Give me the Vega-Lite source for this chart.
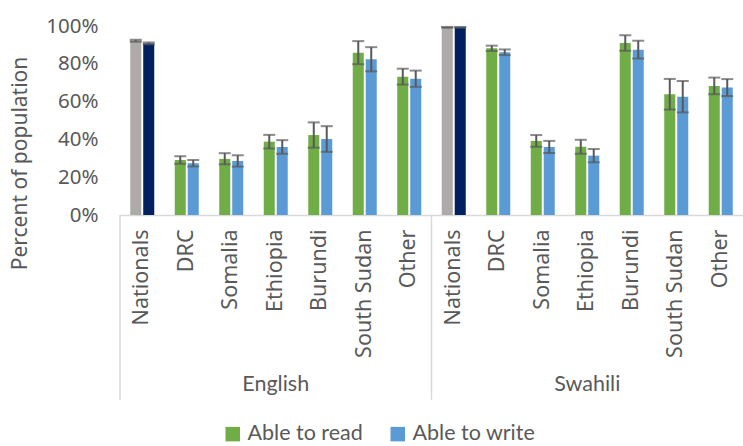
{
  "$schema": "https://vega.github.io/schema/vega-lite/v6.json",
  "width": 623,
  "height": 189,
  "autosize": {"type": "none"},
  "padding": {"left": 120, "top": 26, "right": 0, "bottom": 231},
  "background": "white",
  "config": {
    "view": {"stroke": null},
    "font": "Noto Sans",
    "axisY": {
      "grid": false, "domain": false, "ticks": false, "tickSize": 0,
      "labelOverlap": false, "labelBound": false, "labelFlush": false,
      "labelFont": "Noto Sans", "labelFontSize": 20.5, "labelColor": "#595959", "labelPadding": 22,
      "titleFont": "Noto Sans", "titleFontSize": 21, "titleFontWeight": "normal", "titleColor": "#595959"
    },
    "axisX": {
      "grid": false, "ticks": false, "tickSize": 0,
      "labelOverlap": false,
      "labelFont": "Noto Sans", "labelFontSize": 21.5, "labelColor": "#595959", "labelPadding": 14,
      "domainColor": "#D9D9D9", "domainWidth": 1.5
    }
  },
  "datasets": {
    "bars": [
      {"lang": "English", "country": "Nationals", "measure": "read", "series": "Nationals read", "value": 0.922, "lo": 0.917, "hi": 0.927},
      {"lang": "English", "country": "Nationals", "measure": "write", "series": "Nationals write", "value": 0.908, "lo": 0.903, "hi": 0.913},
      {"lang": "English", "country": "DRC", "measure": "read", "series": "Able to read", "value": 0.291, "lo": 0.271, "hi": 0.311},
      {"lang": "English", "country": "DRC", "measure": "write", "series": "Able to write", "value": 0.274, "lo": 0.257, "hi": 0.291},
      {"lang": "English", "country": "Somalia", "measure": "read", "series": "Able to read", "value": 0.297, "lo": 0.268, "hi": 0.327},
      {"lang": "English", "country": "Somalia", "measure": "write", "series": "Able to write", "value": 0.286, "lo": 0.256, "hi": 0.316},
      {"lang": "English", "country": "Ethiopia", "measure": "read", "series": "Able to read", "value": 0.388, "lo": 0.352, "hi": 0.424},
      {"lang": "English", "country": "Ethiopia", "measure": "write", "series": "Able to write", "value": 0.360, "lo": 0.324, "hi": 0.396},
      {"lang": "English", "country": "Burundi", "measure": "read", "series": "Able to read", "value": 0.423, "lo": 0.356, "hi": 0.490},
      {"lang": "English", "country": "Burundi", "measure": "write", "series": "Able to write", "value": 0.402, "lo": 0.334, "hi": 0.470},
      {"lang": "English", "country": "South Sudan", "measure": "read", "series": "Able to read", "value": 0.859, "lo": 0.798, "hi": 0.920},
      {"lang": "English", "country": "South Sudan", "measure": "write", "series": "Able to write", "value": 0.824, "lo": 0.760, "hi": 0.888},
      {"lang": "English", "country": "Other", "measure": "read", "series": "Able to read", "value": 0.732, "lo": 0.690, "hi": 0.774},
      {"lang": "English", "country": "Other", "measure": "write", "series": "Able to write", "value": 0.721, "lo": 0.678, "hi": 0.764},
      {"lang": "Swahili", "country": "Nationals", "measure": "read", "series": "Nationals read", "value": 0.993, "lo": 0.991, "hi": 0.995},
      {"lang": "Swahili", "country": "Nationals", "measure": "write", "series": "Nationals write", "value": 0.993, "lo": 0.991, "hi": 0.995},
      {"lang": "Swahili", "country": "DRC", "measure": "read", "series": "Able to read", "value": 0.882, "lo": 0.868, "hi": 0.896},
      {"lang": "Swahili", "country": "DRC", "measure": "write", "series": "Able to write", "value": 0.861, "lo": 0.846, "hi": 0.876},
      {"lang": "Swahili", "country": "Somalia", "measure": "read", "series": "Able to read", "value": 0.392, "lo": 0.361, "hi": 0.423},
      {"lang": "Swahili", "country": "Somalia", "measure": "write", "series": "Able to write", "value": 0.360, "lo": 0.328, "hi": 0.392},
      {"lang": "Swahili", "country": "Ethiopia", "measure": "read", "series": "Able to read", "value": 0.361, "lo": 0.324, "hi": 0.398},
      {"lang": "Swahili", "country": "Ethiopia", "measure": "write", "series": "Able to write", "value": 0.314, "lo": 0.279, "hi": 0.349},
      {"lang": "Swahili", "country": "Burundi", "measure": "read", "series": "Able to read", "value": 0.910, "lo": 0.869, "hi": 0.951},
      {"lang": "Swahili", "country": "Burundi", "measure": "write", "series": "Able to write", "value": 0.875, "lo": 0.828, "hi": 0.922},
      {"lang": "Swahili", "country": "South Sudan", "measure": "read", "series": "Able to read", "value": 0.639, "lo": 0.558, "hi": 0.720},
      {"lang": "Swahili", "country": "South Sudan", "measure": "write", "series": "Able to write", "value": 0.626, "lo": 0.543, "hi": 0.709},
      {"lang": "Swahili", "country": "Other", "measure": "read", "series": "Able to read", "value": 0.683, "lo": 0.639, "hi": 0.727},
      {"lang": "Swahili", "country": "Other", "measure": "write", "series": "Able to write", "value": 0.674, "lo": 0.629, "hi": 0.719}
    ],
    "separators": [
      {"lang": "English", "country": "Nationals"},
      {"lang": "Swahili", "country": "Nationals"}
    ],
    "groups": [
      {"lang": "English", "country": "Ethiopia"},
      {"lang": "Swahili", "country": "Ethiopia"}
    ]
  },
  "layer": [
    {
      "data": {"name": "bars"},
      "transform": [{"calculate": "datum.lang + '|' + datum.country", "as": "slot"}],
      "mark": {"type": "bar"},
      "encoding": {
        "x": {
          "field": "slot", "type": "nominal",
          "scale": {
            "domain": ["English|Nationals", "English|DRC", "English|Somalia", "English|Ethiopia", "English|Burundi", "English|South Sudan", "English|Other",
                       "Swahili|Nationals", "Swahili|DRC", "Swahili|Somalia", "Swahili|Ethiopia", "Swahili|Burundi", "Swahili|South Sudan", "Swahili|Other"],
            "paddingInner": 0, "paddingOuter": 0
          },
          "axis": {"title": null, "labelExpr": "split(datum.label, '|')[1]", "labelAngle": -90}
        },
        "xOffset": {
          "field": "measure", "type": "nominal",
          "scale": {"domain": ["read", "write"], "paddingInner": 0.15, "paddingOuter": 0.79}
        },
        "y": {
          "field": "value", "type": "quantitative",
          "scale": {"domain": [0, 1], "nice": false},
          "axis": {"title": "Percent of population", "values": [0, 0.2, 0.4, 0.6, 0.8, 1], "format": ".0%", "labelOverlap": false, "titleX": -100, "titleY": 137, "titleAlign": "center", "titleBaseline": "middle", "titleAngle": -90}
        },
        "color": {
          "field": "series", "type": "nominal",
          "scale": {
            "domain": ["Able to read", "Able to write", "Nationals read", "Nationals write"],
            "range": ["#70AD47", "#5B9BD5", "#AEAAAA", "#002060"]
          },
          "legend": {
            "values": ["Able to read", "Able to write"],
            "title": null,
            "orient": "none",
            "direction": "horizontal",
            "legendX": 102,
            "legendY": 397,
            "symbolType": "square",
            "symbolSize": 210,
            "symbolStrokeWidth": 0,
            "labelFont": "Lato",
            "labelFontSize": 21.5,
            "labelColor": "#595959",
            "labelOffset": 4,
            "columnPadding": 24
          }
        }
      }
    },
    {
      "data": {"name": "bars"},
      "transform": [{"calculate": "datum.lang + '|' + datum.country", "as": "slot"}],
      "mark": {"type": "rule", "color": "#595959", "strokeWidth": 2},
      "encoding": {
        "x": {"field": "slot", "type": "nominal", "axis": {"title": null, "labelExpr": "split(datum.label, '|')[1]", "labelAngle": -90}},
        "xOffset": {"field": "measure", "type": "nominal"},
        "y": {"field": "lo", "type": "quantitative", "axis": {"title": "Percent of population", "values": [0, 0.2, 0.4, 0.6, 0.8, 1], "format": ".0%", "labelOverlap": false, "titleX": -100, "titleY": 137, "titleAlign": "center", "titleBaseline": "middle", "titleAngle": -90}},
        "y2": {"field": "hi"}
      }
    },
    {
      "data": {"name": "bars"},
      "transform": [{"calculate": "datum.lang + '|' + datum.country", "as": "slot"}],
      "mark": {"type": "tick", "color": "#595959", "size": 12, "thickness": 2},
      "encoding": {
        "x": {"field": "slot", "type": "nominal", "axis": {"title": null, "labelExpr": "split(datum.label, '|')[1]", "labelAngle": -90}},
        "xOffset": {"field": "measure", "type": "nominal"},
        "y": {"field": "lo", "type": "quantitative", "axis": {"title": "Percent of population", "values": [0, 0.2, 0.4, 0.6, 0.8, 1], "format": ".0%", "labelOverlap": false, "titleX": -100, "titleY": 137, "titleAlign": "center", "titleBaseline": "middle", "titleAngle": -90}}
      }
    },
    {
      "data": {"name": "bars"},
      "transform": [{"calculate": "datum.lang + '|' + datum.country", "as": "slot"}],
      "mark": {"type": "tick", "color": "#595959", "size": 12, "thickness": 2},
      "encoding": {
        "x": {"field": "slot", "type": "nominal", "axis": {"title": null, "labelExpr": "split(datum.label, '|')[1]", "labelAngle": -90}},
        "xOffset": {"field": "measure", "type": "nominal"},
        "y": {"field": "hi", "type": "quantitative", "axis": {"title": "Percent of population", "values": [0, 0.2, 0.4, 0.6, 0.8, 1], "format": ".0%", "labelOverlap": false, "titleX": -100, "titleY": 137, "titleAlign": "center", "titleBaseline": "middle", "titleAngle": -90}}
      }
    },
    {
      "data": {"name": "separators"},
      "transform": [{"calculate": "datum.lang + '|' + datum.country", "as": "slot"}],
      "mark": {"type": "rule", "color": "#D9D9D9", "strokeWidth": 1.5, "clip": false},
      "encoding": {
        "x": {"field": "slot", "type": "nominal", "bandPosition": 0, "axis": {"title": null, "labelExpr": "split(datum.label, '|')[1]", "labelAngle": -90}},
        "y": {"datum": 0, "axis": {"title": "Percent of population", "values": [0, 0.2, 0.4, 0.6, 0.8, 1], "format": ".0%", "labelOverlap": false, "titleX": -100, "titleY": 137, "titleAlign": "center", "titleBaseline": "middle", "titleAngle": -90}},
        "y2": {"datum": -0.978}
      }
    },
    {
      "data": {"name": "groups"},
      "transform": [{"calculate": "datum.lang + '|' + datum.country", "as": "slot"}],
      "mark": {"type": "text", "font": "Lato", "fontSize": 21.5, "color": "#595959", "baseline": "middle", "align": "center", "clip": false},
      "encoding": {
        "x": {"field": "slot", "type": "nominal", "axis": {"title": null, "labelExpr": "split(datum.label, '|')[1]", "labelAngle": -90}},
        "y": {"datum": -0.9, "axis": {"title": "Percent of population", "values": [0, 0.2, 0.4, 0.6, 0.8, 1], "format": ".0%", "labelOverlap": false, "titleX": -100, "titleY": 137, "titleAlign": "center", "titleBaseline": "middle", "titleAngle": -90}},
        "text": {"field": "lang"}
      }
    }
  ]
}
